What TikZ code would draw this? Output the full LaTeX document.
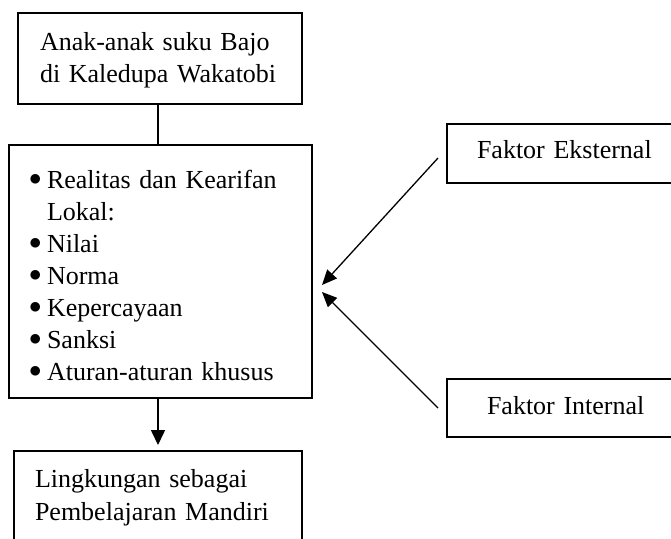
\documentclass[tikz,border=0pt]{standalone}
\usepackage{fontspec}
\setmainfont{Liberation Serif}
\usetikzlibrary{arrows.meta,calc}
% bullet with a fixed-width slot so wrapped lines hang under the text
\newcommand\listbullet{\makebox[18pt][l]{\raisebox{2.5pt}{$\bullet$}}}
\begin{document}
\begin{tikzpicture}[x=1pt,y=-1pt,
  box/.style={draw,line width=1.6pt,anchor=north west,align=left,
    inner ysep=0pt,outer sep=0pt,font=\fontsize{26}{32}\selectfont},
  link/.style={line width=1.6pt},
  flow/.style={line width=1.6pt,-{Triangle[length=15pt,width=14pt]}},
  feed/.style={line width=1.3pt,-{Triangle[length=15pt,width=13pt]}}]
\useasboundingbox (0,0) rectangle (671,538);
\clip (0,0) rectangle (671,538);

% subject
\node[box,inner xsep=22pt,text width=240pt,text height=37pt,text depth=54pt]
  (subject) at (18,13) {Anak-anak suku Bajo\\di Kaledupa Wakatobi};

% local wisdom
\node[box,inner xsep=20pt,text width=263pt,text height=43pt,text depth=210pt]
  (wisdom) at (9,145) {\listbullet Realitas dan Kearifan\\
    \hspace*{18pt}Lokal:\\
    \listbullet Nilai\\
    \listbullet Norma\\
    \listbullet Kepercayaan\\
    \listbullet Sanksi\\
    \listbullet Aturan-aturan khusus};

% outcome
\node[box,inner xsep=21pt,text width=246pt,text height=36pt,text depth=150pt,
  font=\fontsize{26}{33}\selectfont]
  (outcome) at (14,451) {Lingkungan sebagai\\Pembelajaran Mandiri};

% factors
\node[box,inner xsep=30pt,text width=250pt,text height=34pt,text depth=25pt]
  (external) at (447,124) {Faktor Eksternal};
\node[box,inner xsep=40pt,text width=250pt,text height=35pt,text depth=23pt]
  (internal) at (447,379) {Faktor Internal};

% connectors
\coordinate (axis) at (158,0);
\draw[link] (subject.south -| axis) -- (wisdom.north -| axis);
\draw[flow,shorten >=6pt] (wisdom.south -| axis) -- (outcome.north -| axis);

\coordinate (extTail) at (438,158);
\coordinate (extTip) at (322,285);
\coordinate (intTail) at (438,408);
\coordinate (intTip) at (322,292);
\draw[feed] (extTail) -- (extTip);
\draw[feed] (intTail) -- (intTip);
\end{tikzpicture}
\end{document}
